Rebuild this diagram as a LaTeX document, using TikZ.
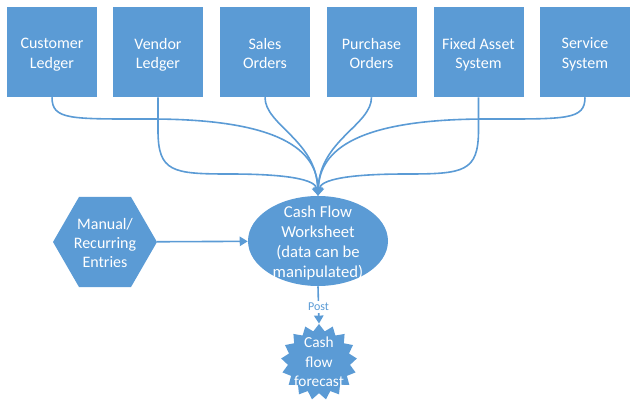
\documentclass[tikz,border=0pt]{standalone}
\usepackage{fontspec}
\setmainfont{Carlito}
\usetikzlibrary{arrows.meta,shapes.geometric}
\definecolor{obl}{HTML}{5B9BD5}
\tikzset{
  srcbox/.style={fill=obl, minimum width=67.5pt, minimum height=67.5pt, inner sep=0pt},
  boxtxt/.style={text=white, align=center, inner sep=0pt, font=\fontsize{12}{14.6}\selectfont, yshift=-3.1pt, execute at end node=\strut},
  flow/.style={draw=obl, line width=1.2pt, -{Triangle[width=7pt,length=6pt]}},
  lbl/.style={text=white, align=center, inner sep=0pt},
}
\begin{document}
\begin{tikzpicture}[x=0.75pt,y=-0.75pt]
\useasboundingbox (0,0) rectangle (640,411);
\node[srcbox] (cl) at (52,52) {};
\node[srcbox] (vl) at (158,52) {};
\node[srcbox] (so) at (265,52) {};
\node[srcbox] (po) at (371.5,52) {};
\node[srcbox] (fa) at (478.5,52) {};
\node[srcbox] (ss) at (585,52) {};
\node[boxtxt] (clt) at (cl) {Customer\\Ledger};
\node[boxtxt] (vlt) at (vl) {Vendor\\Ledger};
\node[boxtxt] (sot) at (so) {Sales\\Orders};
\node[boxtxt] (pot) at (po) {Purchase\\Orders};
\node[boxtxt] (fat) at (fa) {Fixed Asset\\System};
\node[boxtxt] (sst) at (ss) {Service\\System};
\node[ellipse, fill=obl, minimum width=105pt, minimum height=67.5pt, inner sep=0pt] (wk) at (318,241) {};
\node[lbl, font=\fontsize{12.5}{15}\selectfont] (wkt) at (318,243) {Cash Flow\\Worksheet\\(data can be\\manipulated)};
\node[regular polygon, regular polygon sides=6, fill=obl, minimum size=78pt, inner sep=0pt] (man) at (105,242) {};
\node[lbl, font=\fontsize{12}{14.6}\selectfont] (mant) at (105,243) {Manual/\\Recurring\\Entries};
\node[star, star points=17, star point ratio=1.22, fill=obl, minimum size=57pt, inner sep=0pt] (fc) at (319,362) {};
\node[lbl, font=\fontsize{11.5}{14.5}\selectfont] (fct) at (319,362) {Cash\\flow\\forecast};
\draw[flow] (cl.south) .. controls (52,120) and (70,119) .. (150,119) .. controls (280,119) and (317,150) .. (wk.north);
\draw[flow] (vl.south) -- (158,130) .. controls (158,172) and (172,174) .. (230,174) .. controls (290,174) and (315,180) .. (wk.north);
\draw[flow] (so.south) .. controls (265,125) and (316,140) .. (wk.north);
\draw[flow] (po.south) .. controls (371.5,125) and (320,140) .. (wk.north);
\draw[flow] (fa.south) -- (478.5,130) .. controls (478.5,172) and (464,174) .. (406,174) .. controls (346,174) and (321,180) .. (wk.north);
\draw[flow] (ss.south) .. controls (585,120) and (567,119) .. (487,119) .. controls (357,119) and (320,150) .. (wk.north);
\draw[flow] (man) -- (wk);
\draw[flow] (wk.south) -- node[fill=white, text=obl, inner sep=1.5pt, font=\fontsize{9}{10}\selectfont, pos=0.55] (post) {Post} (fc.north);
\end{tikzpicture}
\end{document}
